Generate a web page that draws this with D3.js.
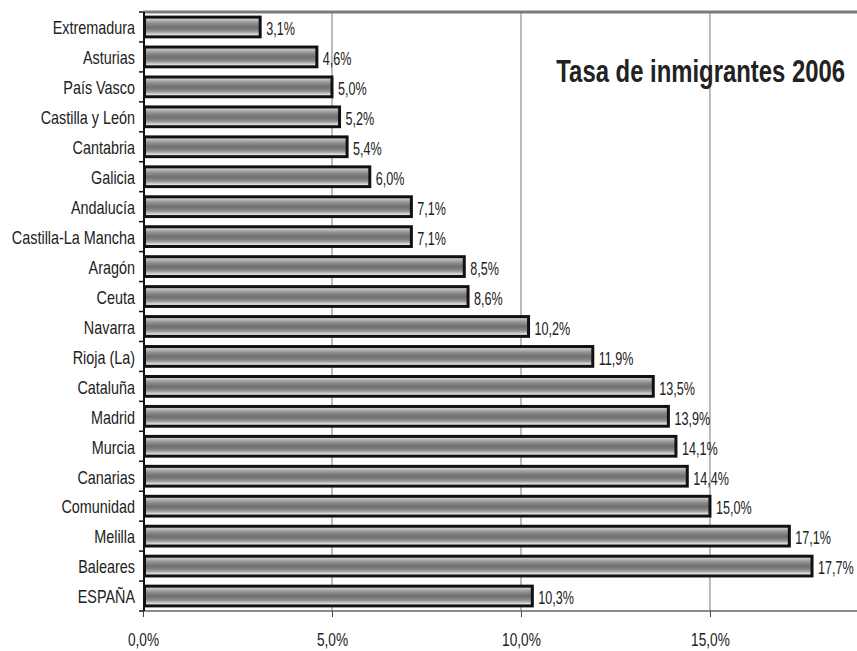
<!DOCTYPE html>
<html><head><meta charset="utf-8">
<script src="https://cdn.jsdelivr.net/npm/d3@7"></script>
<style>
body{margin:0;background:#fff;}
text{font-family:"Liberation Sans",Arial,sans-serif;}
</style></head>
<body>
<svg id="chart" width="857" height="651"></svg>
<script>
const categories = ["Extremadura","Asturias","País Vasco","Castilla y León","Cantabria","Galicia","Andalucía","Castilla-La Mancha","Aragón","Ceuta","Navarra","Rioja (La)","Cataluña","Madrid","Murcia","Canarias","Comunidad","Melilla","Baleares","ESPAÑA"];
const values = [3.1,4.6,5.0,5.2,5.4,6.0,7.1,7.1,8.5,8.6,10.2,11.9,13.5,13.9,14.1,14.4,15.0,17.1,17.7,10.3];
const valueLabels = ["3,1%","4,6%","5,0%","5,2%","5,4%","6,0%","7,1%","7,1%","8,5%","8,6%","10,2%","11,9%","13,5%","13,9%","14,1%","14,4%","15,0%","17,1%","17,7%","10,3%"];
const tickValues = [0,5,10,15];
const tickLabels = ["0,0%","5,0%","10,0%","15,0%"];
const title = "Tasa de inmigrantes 2006";

const svg = d3.select("#chart");
const mLeft = 143, mRight = 857, mTop = 12, mBottom = 611;
const narrow = 0.8;
const x = d3.scaleLinear().domain([0, 18.89]).range([mLeft, mRight]);
const y = d3.scaleBand().domain(categories).range([mTop, mBottom]).paddingInner(0.24).paddingOuter(0.12);

// gradient
const defs = svg.append("defs");
const g = defs.append("linearGradient").attr("id","barGrad").attr("x1",0).attr("y1",0).attr("x2",0).attr("y2",1);
[[0,"#d8d8d8"],[0.12,"#c4c4c4"],[0.22,"#a4a4a4"],[0.35,"#868686"],[0.5,"#707070"],[0.62,"#7c7c7c"],[0.74,"#989898"],[0.84,"#c8c8c8"],[0.93,"#f0f0f0"],[1,"#f8f8f8"]]
  .forEach(([o,c]) => g.append("stop").attr("offset",o).attr("stop-color",c));

// gridlines
svg.append("g").selectAll("line").data(tickValues.slice(1)).join("line")
  .attr("x1", d => x(d)).attr("x2", d => x(d)).attr("y1", mTop).attr("y2", mBottom)
  .attr("stroke","#777").attr("stroke-width",1);

// top border
svg.append("line").attr("x1",mLeft).attr("x2",mRight).attr("y1",mTop).attr("y2",mTop)
  .attr("stroke","#7a7a7a").attr("stroke-width",3);

// bars
svg.append("g").selectAll("rect").data(categories).join("rect")
  .attr("x", x(0)+1.5)
  .attr("y", d => y(d)+1.5)
  .attr("width", (d,i) => x(values[i]) - x(0) - 1.5)
  .attr("height", y.bandwidth()-3)
  .attr("fill","url(#barGrad)")
  .attr("stroke","#111").attr("stroke-width",3);

// bottom axis
const xAxis = d3.axisBottom(x).tickValues(tickValues).tickFormat((d,i) => tickLabels[i]).tickSize(6).tickPadding(16);
const ax = svg.append("g").attr("transform",`translate(0,${mBottom})`).call(xAxis);
ax.select(".domain").attr("d",`M${mLeft},0H${mRight}`).attr("stroke","#666").attr("stroke-width",1.5);
ax.selectAll(".tick line").attr("stroke","#444");
ax.selectAll(".tick text").attr("font-size",18).attr("fill","#222")
  .attr("transform",`scale(0.76,1)`)
  .style("font-family",'"Liberation Sans",Arial,sans-serif');

// left axis
const yEdges = d3.range(categories.length+1).map(i => mTop + i*(mBottom-mTop)/categories.length);
svg.append("line").attr("x1",mLeft+1).attr("x2",mLeft+1).attr("y1",mTop).attr("y2",mBottom)
  .attr("stroke","#111").attr("stroke-width",2);
svg.append("g").selectAll("line").data(yEdges).join("line")
  .attr("x1",mLeft-4).attr("x2",mLeft).attr("y1",d=>d).attr("y2",d=>d)
  .attr("stroke","#111").attr("stroke-width",1.5);

// category labels
svg.append("g").selectAll("text").data(categories).join("text")
  .attr("transform", d => `translate(${mLeft-8},${y(d)+y.bandwidth()/2+1}) scale(${narrow},1)`)
  .attr("dy","0.35em").attr("text-anchor","end")
  .attr("font-size",18).attr("fill","#222").text(d=>d);

// value labels
svg.append("g").selectAll("text").data(categories).join("text")
  .attr("transform", (d,i) => `translate(${x(values[i]) + 6},${y(d)+y.bandwidth()/2+2}) scale(0.7,1)`)
  .attr("dy","0.35em")
  .attr("font-size",18).attr("fill","#222").text((d,i)=>valueLabels[i]);

// title
svg.append("text").attr("transform","translate(845,82) scale(0.77,1)").attr("text-anchor","end")
  .attr("font-size",31).attr("font-weight","bold").attr("fill","#222").text(title);
</script>
</body></html>
